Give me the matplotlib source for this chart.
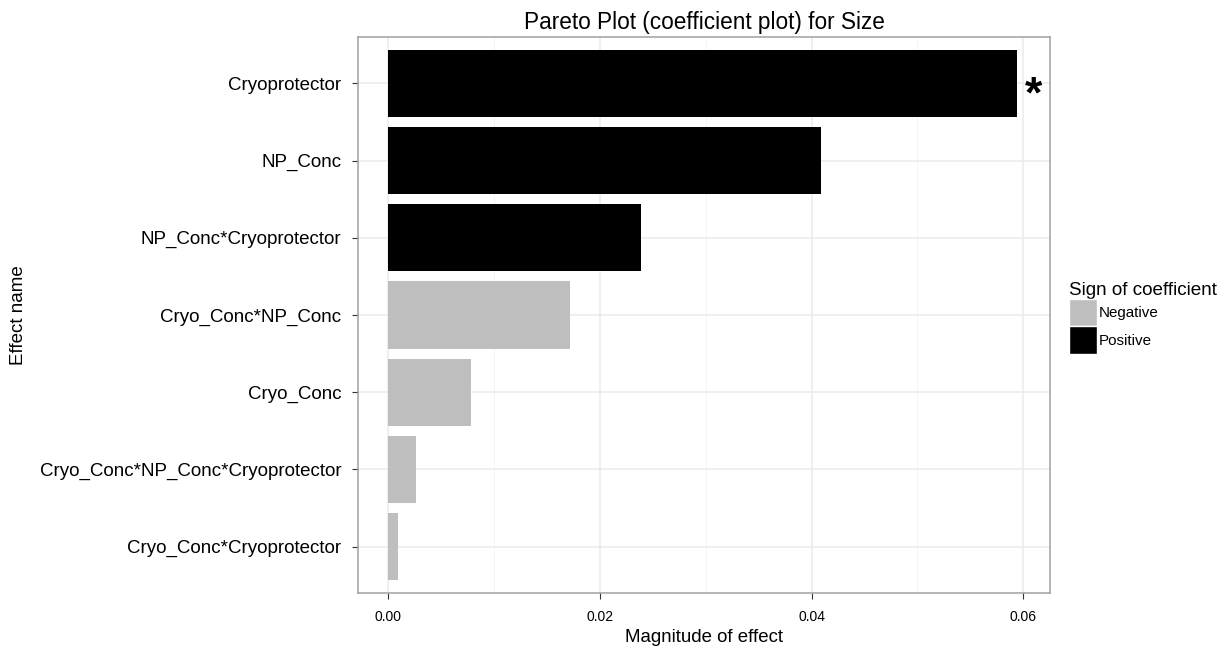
import matplotlib.pyplot as plt
from matplotlib.patches import Patch
import numpy as np

plt.rcParams["font.family"] = ["Liberation Sans", "DejaVu Sans"]

# effects ordered top to bottom, with magnitude and sign of coefficient
effects = ["Cryoprotector", "NP_Conc", "NP_Conc*Cryoprotector", "Cryo_Conc*NP_Conc",
           "Cryo_Conc", "Cryo_Conc*NP_Conc*Cryoprotector", "Cryo_Conc*Cryoprotector"]
magnitude = [0.0594, 0.0409, 0.0239, 0.0172, 0.0078, 0.0026, 0.0009]
sign = ["Positive", "Positive", "Positive", "Negative", "Negative", "Negative", "Negative"]
significant = [True, False, False, False, False, False, False]

colors = {"Negative": "#bebebe", "Positive": "#000000"}

fig = plt.figure(figsize=(12.31, 6.46), dpi=100)
ax = fig.add_axes([0.2908, 0.082, 0.8530 - 0.2908, 0.9427 - 0.082])

y = np.arange(len(effects))
ax.barh(y, magnitude, height=0.87, color=[colors[s] for s in sign], zorder=3)

for yi, m, sig in zip(y, magnitude, significant):
    if sig:
        ax.annotate("*", xy=(m, yi), xytext=(6, -9), textcoords="offset points",
                    ha="left", va="center", fontsize=32, fontweight="bold")

ax.set_yticks(y)
ax.set_yticklabels(effects, fontsize=13.5)
ax.set_ylim(len(effects) - 0.4, -0.6)
ax.set_xlim(-0.00288, 0.06255)
ax.set_xticks([0.0, 0.02, 0.04, 0.06])
ax.set_xticklabels(["0.00", "0.02", "0.04", "0.06"], fontsize=10)
ax.set_xticks([0.01, 0.03, 0.05], minor=True)

ax.grid(True, which="major", color="#ebebeb", lw=1.1, zorder=0)
ax.grid(True, which="minor", axis="x", color="#f4f4f4", lw=0.7, zorder=0)
ax.tick_params(axis="both", which="major", length=4, color="#333333", labelcolor="black", pad=8)
ax.tick_params(axis="x", which="minor", length=0)
for sp in ax.spines.values():
    sp.set_color("#a0a0a0")
    sp.set_linewidth(1.1)

ax.set_xlabel("Magnitude of effect", fontsize=13.4, labelpad=4)
ax.set_ylabel("Effect name", fontsize=13.5)
ax.yaxis.set_label_coords(-0.478, 0.5)
ax.set_title("Pareto Plot (coefficient plot) for Size", fontsize=16.3, pad=6)

handles = [Patch(facecolor=colors["Negative"], edgecolor="white", lw=1),
           Patch(facecolor=colors["Positive"], edgecolor="white", lw=1)]
leg = fig.legend(handles, ["Negative", "Positive"], title="Sign of coefficient",
                 loc="upper left", bbox_to_anchor=(0.862, 0.575), frameon=False,
                 fontsize=10.9, title_fontsize=13.6, handlelength=1.9, handleheight=2.4,
                 handletextpad=0.1, labelspacing=0.0, borderpad=0)
leg._legend_box.align = "left"

fig.savefig("out.png", dpi=100)
